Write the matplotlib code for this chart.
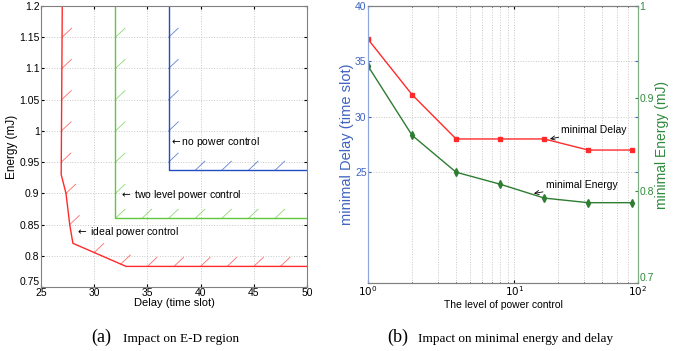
import numpy as np
import matplotlib
matplotlib.use('Agg')
import matplotlib.pyplot as plt
from matplotlib.transforms import ScaledTranslation

plt.rcParams['font.family'] = ['Liberation Sans', 'DejaVu Sans']
plt.rcParams['font.size'] = 7.5

# (a) E-D region boundaries
ideal_delay = [27.0, 26.9, 27.35, 27.7, 28.0, 33.0, 50.0]
ideal_energy = [1.2, 0.93, 0.90, 0.85, 0.82, 0.783, 0.783]
two_delay = [32.0, 32.0, 50.0]
two_energy = [1.2, 0.86, 0.86]
none_delay = [37.0, 37.0, 50.0]
none_energy = [1.2, 0.937, 0.937]

# where the little hatch ticks sit on each boundary
ideal_hatch_e = [1.15, 1.10, 1.05, 1.00, 0.95, 0.90, 0.85]
ideal_hatch_d = [30.0, 32.5, 35.0, 37.5, 40.0, 42.5, 45.0, 47.5]
two_hatch_e = [1.15, 1.10, 1.05, 1.00, 0.95, 0.90]
two_hatch_d = [32.0, 34.5, 37.0, 39.5, 42.0, 44.5, 47.0]
none_hatch_e = [1.15, 1.10, 1.05, 1.00, 0.95]
none_hatch_d = [39.5, 42.0, 44.5, 47.0]

# (b) minimal delay / energy vs number of power levels
levels = [1, 2, 4, 8, 16, 32, 64]
min_delay = [37, 32, 28, 28, 28, 27, 27]
min_energy = [0.935, 0.86, 0.82, 0.807, 0.792, 0.787, 0.787]

fig = plt.figure(figsize=(6.73, 3.51), dpi=100)
ax = fig.add_axes([0.0609, 0.1823, 0.3952, 0.8006])

grey = '#808080'


def hatch(ax, xs, ys, he, hd, color):
    # steep part: find delay for each energy, flat part: energy for each delay
    xr = np.array(xs[::-1]); yr = np.array(ys[::-1])
    pts = []
    for e in he:
        pts.append((np.interp(e, yr, xr), e))
    for d in hd:
        pts.append((d, np.interp(d, np.array(xs[1:]), np.array(ys[1:]))))
    for x0, y0 in pts:
        ax.plot([x0, x0 + 0.9], [y0, y0 + 0.0145], color=color, lw=0.6, alpha=0.7)


ax.plot(ideal_delay, ideal_energy, color='#ff2a2a', lw=1.0)
ax.plot(two_delay, two_energy, color='#5cc83a', lw=1.0)
ax.plot(none_delay, none_energy, color='#2050c0', lw=1.0)
hatch(ax, ideal_delay, ideal_energy, ideal_hatch_e, ideal_hatch_d, '#ff2a2a')
hatch(ax, two_delay, two_energy, two_hatch_e, two_hatch_d, '#5cc83a')
hatch(ax, none_delay, none_energy, none_hatch_e, none_hatch_d, '#2050c0')

ax.text(37.05, 0.983, r'$\leftarrow$no power control', va='center', ha='left', fontsize=7.5)
ax.text(32.3, 0.897, r'$\leftarrow$ two level power control', va='center', ha='left', fontsize=7.5)
ax.text(28.2, 0.838, r'$\leftarrow$ ideal power control', va='center', ha='left', fontsize=7.5)

ax.set_xlim(25, 50)
ax.set_ylim(0.75, 1.2)
ax.set_xticks(range(25, 51, 5))
yt = np.arange(0.75, 1.2001, 0.05)
ax.set_yticks(yt)
ax.set_yticklabels(['%g' % round(v, 2) for v in yt])
ax.grid(True, ls=':', color='#c8c8c8', lw=0.7)
ax.tick_params(direction='in', length=2, pad=1, labelsize=7.5, top=True, right=True)
for s in ax.spines.values():
    s.set_color(grey)
ax.set_xlabel('Delay (time slot)', fontsize=8, labelpad=0)
ax.set_ylabel('Energy (mJ)', fontsize=8.5, labelpad=1)

# (b)
ax1 = fig.add_axes([0.5468, 0.1937, 0.4012, 0.7892])
ax2 = ax1.twinx()
blue = '#3f63c0'
green = '#2f8a3c'

ax1.plot(levels, min_delay, color='#ff2a2a', lw=1.0, marker='s', ms=3.2)
ax2.plot(levels, min_energy, color='#2e7d32', lw=1.0, marker='d', ms=3.6)

ax1.set_xscale('log')
ax1.set_xlim(1, 70)
ax1.set_xticks([1, 10, 70])
ax1.set_xticklabels(['$10^0$', '$10^1$', '$10^2$'])
ax1.set_ylim(15, 40)
ax1.set_yticks([25, 30, 35, 40])
ax2.set_ylim(0.7, 1.0)
ax2.set_yticks([0.7, 0.8, 0.9, 1.0])
ax2.set_yticklabels(['0.7', '0.8', '0.9', '1'])

ax1.grid(True, which='both', axis='x', ls=':', color='#c8c8c8', lw=0.7)
ax1.grid(True, which='major', axis='y', ls=':', color='#c8c8c8', lw=0.7)
ax1.tick_params(which='both', direction='in', length=2, pad=1, labelsize=7.5, top=True)
ax1.tick_params(axis='y', colors=blue, right=True)
ax1.tick_params(axis='x', colors='black')
ax1.tick_params(axis='x', which='minor', length=1)
ax2.tick_params(direction='in', length=2, pad=1, labelsize=7.5, colors=green)

for a in (ax1, ax2):
    a.spines['top'].set_color(grey)
    a.spines['bottom'].set_color(grey)
    a.spines['left'].set_color('#8ea6dc')
    a.spines['right'].set_color('#7fae87')

ax1.set_xlabel('The level of power control', fontsize=7.5, labelpad=1)
ax1.set_ylabel('minimal Delay (time slot)', color=blue, fontsize=10.5, labelpad=1)
ax2.set_ylabel('minimal Energy (mJ)', color=green, fontsize=10, labelpad=1)

ax1.annotate('minimal Delay', xy=(17.5, 28.0), xytext=(21, 28.8), fontsize=7.5,
             va='center', ha='left',
             arrowprops=dict(arrowstyle='->', lw=0.6, color='black', shrinkA=0, shrinkB=0))
ax2.annotate('minimal Energy', xy=(13.6, 0.797), xytext=(16.4, 0.806), fontsize=7.5,
             va='center', ha='left',
             arrowprops=dict(arrowstyle='->', lw=0.6, color='black', shrinkA=0, shrinkB=0))

# nudge the bottom-most y labels up a bit so they clear the x labels
fig.canvas.draw()
up = ScaledTranslation(0, 4 / 72, fig.dpi_scale_trans)
for lab in (ax.get_yticklabels()[0], ax2.get_yticklabels()[0]):
    lab.set_transform(lab.get_transform() + up)

# captions
fig.text(0.166, 0.038, '(a)', fontsize=13, family='Liberation Serif', ha='right', va='center')
fig.text(0.183, 0.034, 'Impact on E-D region', fontsize=9.5, family='Liberation Serif', ha='left', va='center')
fig.text(0.606, 0.038, '(b)', fontsize=13, family='Liberation Serif', ha='right', va='center')
fig.text(0.621, 0.034, 'Impact on minimal energy and delay', fontsize=9.5, family='Liberation Serif', ha='left', va='center')

fig.savefig('out.png', dpi=100)
